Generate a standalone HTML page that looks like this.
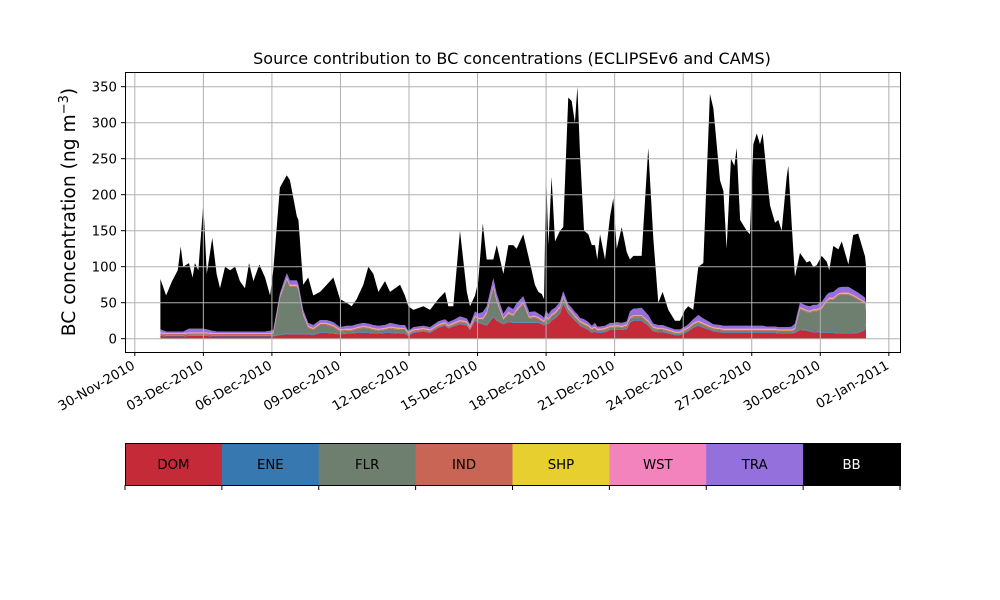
<!DOCTYPE html>
<html><head><meta charset="utf-8"><style>
body{margin:0;background:#fff;}
svg{display:block;font-family:"DejaVu Sans","Liberation Sans",sans-serif;}
</style></head><body>
<svg id="chart" width="1000" height="600" viewBox="0 0 1000 600" xmlns="http://www.w3.org/2000/svg">
<rect width="1000" height="600" fill="#fff"/>
<text x="512" y="64" font-size="16" text-anchor="middle">Source contribution to BC concentrations (ECLIPSEv6 and CAMS)</text>
<text transform="translate(75,212) rotate(-90)" font-size="18.7" text-anchor="middle">BC concentration (ng m<tspan baseline-shift="super" font-size="13">−3</tspan>)</text>
<g id="areas"></g>
<g id="grid"></g>
<rect x="125.5" y="72.5" width="775" height="280" fill="none" stroke="#000" stroke-width="1"/>
<g id="axes"></g>
<g id="legend"></g>
</svg>
<script>
const times=[1.12,1.37,1.63,1.88,2.01,2.12,2.37,2.53,2.63,2.78,3.00,3.15,3.39,3.58,3.73,3.95,4.17,4.39,4.60,4.82,5.00,5.19,5.45,5.70,5.92,6.06,6.35,6.65,6.79,7.09,7.16,7.37,7.59,7.81,8.11,8.40,8.69,8.98,9.27,9.49,9.71,10.00,10.22,10.44,10.66,10.95,11.17,11.61,11.82,11.97,12.19,12.63,12.92,13.28,13.58,13.72,13.94,14.23,14.53,14.67,14.89,15.03,15.23,15.40,15.69,15.84,16.13,16.35,16.56,16.71,17.00,17.26,17.51,17.66,17.81,17.91,18.00,18.10,18.24,18.39,18.61,18.75,18.97,19.12,19.26,19.37,19.48,19.66,19.85,20.00,20.14,20.24,20.36,20.58,20.80,20.94,21.09,21.31,21.53,21.67,21.82,21.96,22.18,22.47,22.69,22.91,23.10,23.35,23.64,23.86,24.08,24.22,24.44,24.66,24.88,25.17,25.32,25.61,25.76,25.90,26.09,26.24,26.34,26.49,26.78,26.92,27.07,27.22,27.36,27.48,27.65,27.80,28.02,28.16,28.31,28.53,28.60,28.75,28.89,29.11,29.40,29.55,29.69,29.84,30.06,30.28,30.39,30.57,30.79,30.94,31.23,31.44,31.66,31.96,32.00];
const dom=[4,3,3,3,3,3,4,4,4,4,4,4,3,3,3,3,3,3,3,3,3,3,3,3,3,3,5,6,6,6,6,6,6,5,8,8,7,6,7,7,8,8,8,7,7,8,8,7,7,4,8,10,8,15,18,14,17,20,18,12,25,22,20,18,30,25,20,23,22,22,22,22,22,22,20,18,22,20,25,28,35,48,35,30,25,22,18,15,12,8,10,8,8,9,12,12,12,12,13,22,25,25,25,18,10,9,9,7,5,5,8,10,15,18,15,12,10,9,8,8,8,8,8,8,8,8,8,8,8,8,8,8,8,7,7,7,7,7,8,12,11,10,9,9,8,8,8,8,7,7,7,7,8,12,20,20];
const flr=[1,1,1,1,1,1,1,1,1,1,1,1,1,1,1,1,1,1,1,1,1,1,1,1,1,2,50,75,65,65,60,25,8,6,10,10,8,3,3,3,4,6,5,4,3,3,5,4,4,1,1,1,1,1,1,1,1,2,2,1,3,3,5,15,40,25,5,10,8,15,25,5,6,4,3,3,6,4,5,5,6,8,4,4,3,3,3,3,3,3,3,2,2,2,2,2,3,2,3,4,4,4,4,3,3,2,2,2,1,1,2,2,3,3,3,2,2,2,2,2,2,2,2,2,2,2,2,2,2,2,2,2,2,2,2,2,2,2,3,28,25,25,28,28,32,42,45,45,52,53,53,50,45,35,18,17];
const ene=times.map(()=>1);
const ind=times.map(()=>1.5);
const shp=times.map(()=>0.5);
const wst=times.map(()=>1);
const tra=[4,2,2,2,2,2,5,5,5,5,5,4,3,2,2,2,2,2,2,2,2,2,2,2,3,3,4,6,6,6,6,5,4,4,4,4,4,3,4,4,4,4,4,4,4,4,5,4,4,2,3,3,3,4,4,4,4,5,4,3,6,6,8,8,10,8,6,8,7,8,8,6,6,5,5,4,8,6,6,6,6,6,5,5,5,5,4,5,4,3,5,3,3,3,4,4,4,4,4,8,9,9,10,8,4,4,4,3,3,3,3,4,5,8,6,5,4,4,4,4,4,4,4,4,4,4,4,4,4,4,3,3,3,3,3,3,3,4,6,6,6,6,6,6,7,7,7,8,8,8,8,7,7,6,6];
const bb=[70,50,70,85,118,90,91,71,91,81,174,77,129,80,60,90,85,90,70,60,95,70,93,75,49,83,147,136,139,89,89,35,63,41,39,49,62,39,32,27,35,53,79,71,47,61,43,56,41,34,24,27,24,31,38,22,19,119,37,25,22,45,123,65,26,68,55,85,89,76,86,73,37,30,30,26,190,96,185,92,99,89,287,287,263,316,231,123,122,112,108,93,128,92,148,173,102,133,96,72,73,73,72,232,119,31,46,24,12,12,23,25,13,67,77,317,300,201,187,107,232,222,247,147,132,127,252,267,252,267,213,168,144,149,134,209,224,141,65,69,60,63,53,55,64,46,31,64,53,63,31,76,82,57,53];
const seriesNames=["DOM","ENE","FLR","IND","SHP","WST","TRA","BB"];
const seriesColors=["#c42a37","#3878b1","#6e7f6f","#c96555","#e6cf2e","#f383bd","#9370db","#000000"];
const xTickDays=[0,3,6,9,12,15,18,21,24,27,30,33];
const xTickLabels=["30-Nov-2010","03-Dec-2010","06-Dec-2010","09-Dec-2010","12-Dec-2010","15-Dec-2010","18-Dec-2010","21-Dec-2010","24-Dec-2010","27-Dec-2010","30-Dec-2010","02-Jan-2011"];
const yTicks=[0,50,100,150,200,250,300,350];

const NS="http://www.w3.org/2000/svg";
const xs=d=>134.8+d*22.85;
const ys=v=>338.7-v*0.72;
function mk(tag,attrs,parent){const e=document.createElementNS(NS,tag);for(const k in attrs)e.setAttribute(k,attrs[k]);parent.appendChild(e);return e;}

const layers=[dom,ene,flr,ind,shp,wst,tra,bb];
const areas=document.getElementById('areas');
let base=times.map(()=>0);
layers.forEach((arr,li)=>{
  const top=base.map((b,i)=>b+arr[i]);
  let d="M"+times.map((t,i)=>xs(t).toFixed(2)+","+ys(top[i]).toFixed(2)).join("L");
  for(let i=times.length-1;i>=0;i--)d+="L"+xs(times[i]).toFixed(2)+","+ys(base[i]).toFixed(2);
  d+="Z";
  const p=mk('path',{d:d,fill:seriesColors[li]},areas);
  
  
  base=top;
});

const grid=document.getElementById('grid');
const axes=document.getElementById('axes');
xTickDays.forEach((dd,i)=>{
  const x=xs(dd);
  const g=mk('line',{x1:x,x2:x,y1:72,y2:352,stroke:'#b0b0b0','stroke-width':1},grid);
  
  
  const t=mk('line',{x1:x,x2:x,y1:352,y2:356,stroke:'#000','stroke-width':1},axes);
  
  
  const lb=mk('text',{transform:`translate(${x+1},${368}) rotate(-30)`,'font-size':13.3,'text-anchor':'end'},axes);
  lb.textContent=xTickLabels[i];
  
  
});
yTicks.forEach(v=>{
  const y=ys(v);
  const g=mk('line',{x1:125,x2:900,y1:y,y2:y,stroke:'#b0b0b0','stroke-width':1},grid);
  
  
  const t=mk('line',{x1:121,x2:125,y1:y,y2:y,stroke:'#000','stroke-width':1},axes);
  
  
  const lb=mk('text',{x:117,y:y+4.8,'font-size':13.3,'text-anchor':'end'},axes);
  lb.textContent=v;
  
  
});

const legend=document.getElementById('legend');
const lw=775/seriesNames.length;
seriesNames.forEach((n,i)=>{
  const x=125+i*lw;
  const r=mk('rect',{x:x,y:443,width:lw+0.5,height:42,fill:seriesColors[i]},legend);
  
  
  const t=mk('text',{x:x+lw/2,y:469,'font-size':13.3,'text-anchor':'middle',fill:n==="BB"?"#fff":"#000"},legend);
  t.textContent=n;
  
  
});
for(let i=0;i<=seriesNames.length;i++){
  const x=125+i*lw;
  const tk=mk('line',{x1:x,x2:x,y1:485,y2:490,stroke:'#000','stroke-width':1},legend);
  
  
}
const fr=mk('rect',{x:125.5,y:443.5,width:775,height:42,fill:'none',stroke:'#000','stroke-width':1},legend);


</script>
</body></html>
